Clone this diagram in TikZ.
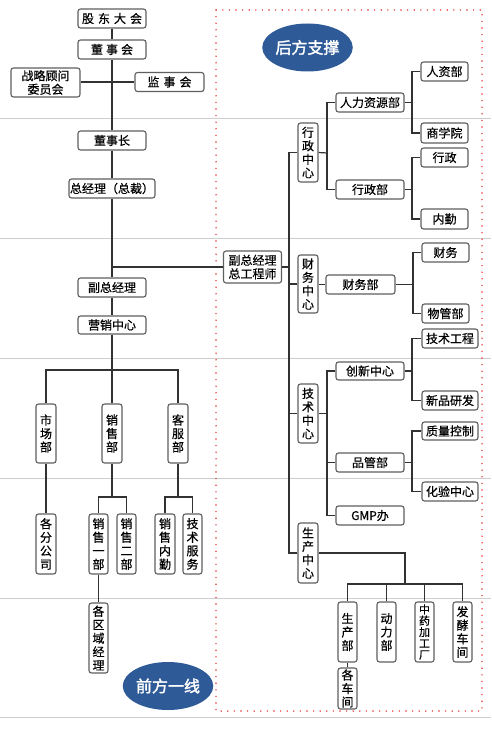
\documentclass[tikz,border=0pt]{standalone}
\usepackage{fontspec}
\newfontfamily\cjk[FakeBold=0.6]{Noto Sans CJK SC}
\newfontfamily\cjkb[FakeBold=2]{Noto Sans CJK SC}
\usetikzlibrary{shapes.geometric}
\definecolor{ovalblue}{RGB}{46,90,152}
\definecolor{dotred}{RGB}{232,52,52}
\definecolor{sepgray}{RGB}{205,205,205}
\definecolor{boxgray}{RGB}{95,95,95}
\definecolor{linegray}{RGB}{50,50,50}
\tikzset{
  hbox/.style={draw=boxgray, line width=1.1pt, rounded corners=2.5pt, fill=white, inner sep=0pt,
    font=\cjk\fontsize{12}{13.5}\selectfont, align=center},
  vbox/.style={hbox, font=\cjk\fontsize{12}{13.5}\selectfont},
  oval/.style={ellipse, fill=ovalblue, text=white, inner sep=0pt, font=\cjkb\fontsize{16}{18}\selectfont},
  conn/.style={draw=linegray, line width=1.2pt},
  sep/.style={draw=sepgray, line width=0.9pt},
}
\begin{document}
\begin{tikzpicture}[x=1pt,y=-1pt]
\useasboundingbox (0,0) rectangle (491,735);
\fill[white] (0,0) rectangle (491,735);
% separators
\foreach \yy in {118,238,358,478,598,717} \draw[sep] (0,\yy) -- (491,\yy);
% dotted frame
\draw[dotred, line width=1.6pt, line cap=round, dash pattern=on 0pt off 6.6pt] (216,10) rectangle (482,711);

% ---------- left column ----------
\node[hbox, minimum width=68, minimum height=19] (gd) at (112,18.5) {股\hspace{4pt}东\hspace{4pt}大\hspace{4pt}会};
\node[hbox, minimum width=68, minimum height=19] (dsh) at (112,49.5) {董\hspace{3pt}事\hspace{3pt}会};
\node[hbox, minimum width=69, minimum height=29] (zl) at (45.5,82.5) {战略顾问\\委员会};
\node[hbox, minimum width=69, minimum height=19] (js) at (169.5,82) {监\hspace{4pt}事\hspace{4pt}会};
\node[hbox, minimum width=68, minimum height=19] (dsz) at (112,140.5) {董事长};
\node[hbox, minimum width=86, minimum height=19] (zjl) at (112,188.5) {总经理（总裁）};
\node[hbox, minimum width=68, minimum height=19] (fzjl) at (112,287.5) {副总经理};
\node[hbox, minimum width=68, minimum height=18] (yx) at (112,325) {营销中心};
\node[vbox, minimum width=20, minimum height=59] (scb1) at (46,433.5) {市\\场\\部};
\node[vbox, minimum width=20, minimum height=59] (xsb) at (112,433.5) {销\\售\\部};
\node[vbox, minimum width=20, minimum height=59] (kfb) at (178,433.5) {客\\服\\部};
\node[vbox, minimum width=20, minimum height=60] (gf) at (46,544) {各\\分\\公\\司};
\node[vbox, minimum width=19, minimum height=60] (xs1) at (98.5,544) {销\\售\\一\\部};
\node[vbox, minimum width=19, minimum height=60] (xs2) at (126.5,544) {销\\售\\二\\部};
\node[vbox, minimum width=20, minimum height=60] (xn) at (165,544) {销\\售\\内\\勤};
\node[vbox, minimum width=19, minimum height=60] (jf) at (192.5,544) {技\\术\\服\\务};
\node[vbox, minimum width=19, minimum height=70] (qy) at (98.5,638) {各\\区\\域\\经\\理};
\node[oval, minimum width=86, minimum height=48] (qf) at (168,686) {前方一线};

% ---------- right column ----------
\node[hbox, minimum width=58, minimum height=32] (fzg) at (252.5,267) {副总经理\\总工程师};
\node[oval, minimum width=85, minimum height=48] (hf) at (307.5,47.5) {后方支撑};
\node[vbox, minimum width=20, minimum height=59] (xz) at (308,152.5) {行\\政\\中\\心};
\node[hbox, minimum width=68, minimum height=19] (rl) at (370,102.5) {人力资源部};
\node[hbox, minimum width=68, minimum height=19] (xzb) at (370,189.5) {行政部};
\node[hbox, minimum width=47, minimum height=19] (rz) at (444.5,71.5) {人资部};
\node[hbox, minimum width=47, minimum height=20] (sx) at (444.5,133) {商学院};
\node[hbox, minimum width=47, minimum height=19] (xzl) at (444.5,157.5) {行政};
\node[hbox, minimum width=47, minimum height=20] (nq) at (444.5,219) {内勤};
\node[vbox, minimum width=20, minimum height=58] (cz) at (308,284) {财\\务\\中\\心};
\node[hbox, minimum width=69, minimum height=19] (cwb) at (360.5,284.5) {财务部};
\node[hbox, minimum width=47, minimum height=19] (cw) at (445.5,252.5) {财务};
\node[hbox, minimum width=47, minimum height=19] (wg) at (445.5,313.5) {物管部};
\node[vbox, minimum width=20, minimum height=59] (jz) at (308,413.5) {技\\术\\中\\心};
\node[hbox, minimum width=68, minimum height=18] (cx) at (370,371) {创新中心};
\node[hbox, minimum width=68, minimum height=19] (pg) at (370,462.5) {品管部};
\node[hbox, minimum width=68, minimum height=19] (gmp) at (370,515.5) {GMP办};
\node[hbox, minimum width=56, minimum height=19] (jg) at (450,338.5) {技术工程};
\node[hbox, minimum width=56, minimum height=19] (xp) at (450,400.5) {新品研发};
\node[hbox, minimum width=56, minimum height=18] (zk) at (450,431) {质量控制};
\node[hbox, minimum width=56, minimum height=19] (hy) at (450,491.5) {化验中心};
\node[vbox, minimum width=20, minimum height=60] (scz) at (308,553) {生\\产\\中\\心};
\node[vbox, minimum width=19, minimum height=60] (scb) at (347.5,632) {生\\产\\部};
\node[vbox, minimum width=19, minimum height=60] (dl) at (386.5,632) {动\\力\\部};
\node[vbox, minimum width=19, minimum height=60, font=\cjk\fontsize{11}{11.3}\selectfont] (zy) at (424.5,632) {中\\药\\加\\工\\厂};
\node[vbox, minimum width=19, minimum height=60] (fj) at (462.5,632) {发\\酵\\车\\间};
\node[vbox, minimum width=19, minimum height=41] (gcj) at (347.5,688.5) {各\\车\\间};

% ---------- hub coordinates ----------
\coordinate (b1) at (112,370);
\coordinate (b2) at (112,497);
\coordinate (b3) at (178,497);
\coordinate (m) at (289,267);
\coordinate (c1) at (327,153);
\coordinate (c2) at (412,102.5);
\coordinate (c3) at (412,189.5);
\coordinate (c4) at (413,284.5);
\coordinate (c5) at (327,413.5);
\coordinate (c6) at (412,371);
\coordinate (c7) at (412,462.5);
\coordinate (p1) at (405,584);

% ---------- connectors ----------
\draw[conn] (gd) -- (dsh);
\draw[conn] (dsh) -- (dsz);
\draw[conn] (zl.east |- js.west) -- (js.west);
\draw[conn] (dsz) -- (zjl);
\draw[conn] (zjl) -- (fzjl);
\draw[conn] (fzjl.north |- fzg.west) -- (fzg.west);
\draw[conn] (fzjl) -- (yx);
\draw[conn] (yx) -- (b1);
\draw[conn] (scb1.north) |- (b1) -| (kfb.north);
\draw[conn] (b1) -- (xsb);
\draw[conn] (scb1) -- (gf);
\draw[conn] (xsb) -- (b2);
\draw[conn] (xs1.north) |- (b2) -| (xs2.north);
\draw[conn] (kfb) -- (b3);
\draw[conn] (xn.north) |- (b3) -| (jf.north);
\draw[conn] (xs1) -- (qy);

\draw[conn] (fzg.east) -- (m);
\draw[conn] (xz.west) -| (m);
\draw[conn] (scz.west) -| (m);
\draw[conn] (cz.west) -- (cz.west -| m);
\draw[conn] (jz.west) -- (jz.west -| m);

\draw[conn] (xz.east) -- (c1);
\draw[conn] (rl.west) -| (c1);
\draw[conn] (xzb.west) -| (c1);
\draw[conn] (rl.east) -- (c2);
\draw[conn] (rz.west) -| (c2);
\draw[conn] (sx.west) -| (c2);
\draw[conn] (xzb.east) -- (c3);
\draw[conn] (xzl.west) -| (c3);
\draw[conn] (nq.west) -| (c3);

\draw[conn] (cz.east |- cwb.west) -- (cwb.west);
\draw[conn] (cwb.east) -- (c4);
\draw[conn] (cw.west) -| (c4);
\draw[conn] (wg.west) -| (c4);

\draw[conn] (jz.east) -- (c5);
\draw[conn] (cx.west) -| (c5);
\draw[conn] (pg.west) -| (c5);
\draw[conn] (gmp.west) -| (c5);
\draw[conn] (cx.east) -- (c6);
\draw[conn] (jg.west) -| (c6);
\draw[conn] (xp.west) -| (c6);
\draw[conn] (pg.east) -- (c7);
\draw[conn] (zk.west) -| (c7);
\draw[conn] (hy.west) -| (c7);

\draw[conn] (scz.east) -| (p1);
\draw[conn] (scb.north) |- (p1) -| (fj.north);
\draw[conn] (dl.north) |- (p1);
\draw[conn] (zy.north) |- (p1);
\draw[conn] (scb) -- (gcj);
\end{tikzpicture}
\end{document}
